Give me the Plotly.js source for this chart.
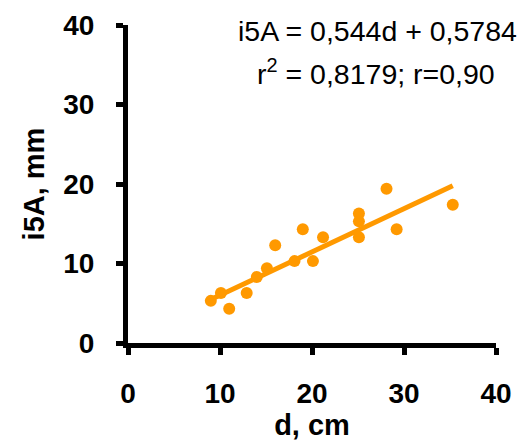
<!DOCTYPE html>
<html>
<head>
<meta charset="utf-8">
<script src="https://cdn.plot.ly/plotly-3.0.1.min.js"></script>
<style>html,body{margin:0;padding:0;background:#fff;}#chart{width:526px;height:441px;}</style>
</head>
<body>
<div id="chart"></div>
<script>
const dValues = [9.0, 10.1, 11.0, 12.9, 14.0, 15.1, 16.0, 18.1, 19.0, 20.1, 21.2, 25.1, 25.1, 25.1, 28.1, 29.2, 35.3];
const i5aValues = [5.3, 6.3, 4.3, 6.3, 8.3, 9.4, 12.3, 10.3, 14.3, 10.3, 13.3, 16.3, 15.3, 13.3, 19.4, 14.3, 17.4];
const trendX = [9.0, 35.3];
const trendY = [5.47, 19.78];
const tickVals = [0, 10, 20, 30, 40];
const eqLine1 = "i5A = 0,544d + 0,5784";
const eqLine2 = "r<sup>2</sup> = 0,8179; r=0,90";
const xTitle = "d, cm";
const yTitle = "i5A, mm";

const orange = "#FF9900";
const font = "Liberation Sans, Arial, sans-serif";

const traces = [
  {x: trendX, y: trendY, type: "scatter", mode: "lines",
   line: {color: orange, width: 5}, showlegend: false, hoverinfo: "skip"},
  {x: dValues, y: i5aValues, type: "scatter", mode: "markers",
   marker: {color: orange, size: 12}, showlegend: false, hoverinfo: "skip", cliponaxis: false}
];

const axisCommon = {
  range: [0, 40], tickvals: tickVals, ticktext: tickVals.map(String),
  showgrid: false, zeroline: false, showline: true, linecolor: "#000", linewidth: 5,
  ticks: "outside", ticklen: 7, tickwidth: 5, tickcolor: "#000",
  tickfont: {family: font, size: 28, color: "#000", weight: "bold"}
};

const layout = {
  width: 526, height: 441,
  margin: {l: 128, r: 30, t: 24.5, b: 98},
  paper_bgcolor: "#fff", plot_bgcolor: "#fff",
  font: {family: font, color: "#000"},
  xaxis: Object.assign({}, axisCommon, {
    ticklabelstandoff: 14,
    title: {text: "<b>" + xTitle + "</b>", font: {family: font, size: 29, color: "#000"}, standoff: 0}
  }),
  yaxis: Object.assign({}, axisCommon, {
    ticklabelstandoff: 16,
    title: {text: "<b>" + yTitle + "</b>", font: {family: font, size: 29, color: "#000"}, standoff: 12}
  }),
  annotations: [
    {text: eqLine1, xref: "paper", yref: "paper", x: (377 - 128) / 368, y: (342.5 - 30) / 318,
     xanchor: "center", yanchor: "middle", showarrow: false,
     font: {family: font, size: 28.5, color: "#000"}},
    {text: eqLine2, xref: "paper", yref: "paper", x: (376 - 128) / 368, y: (342.5 - 71) / 318,
     xanchor: "center", yanchor: "middle", showarrow: false,
     font: {family: font, size: 28.5, color: "#000"}}
  ]
};

Plotly.newPlot("chart", traces, layout, {staticPlot: true, displayModeBar: false});
</script>
</body>
</html>
